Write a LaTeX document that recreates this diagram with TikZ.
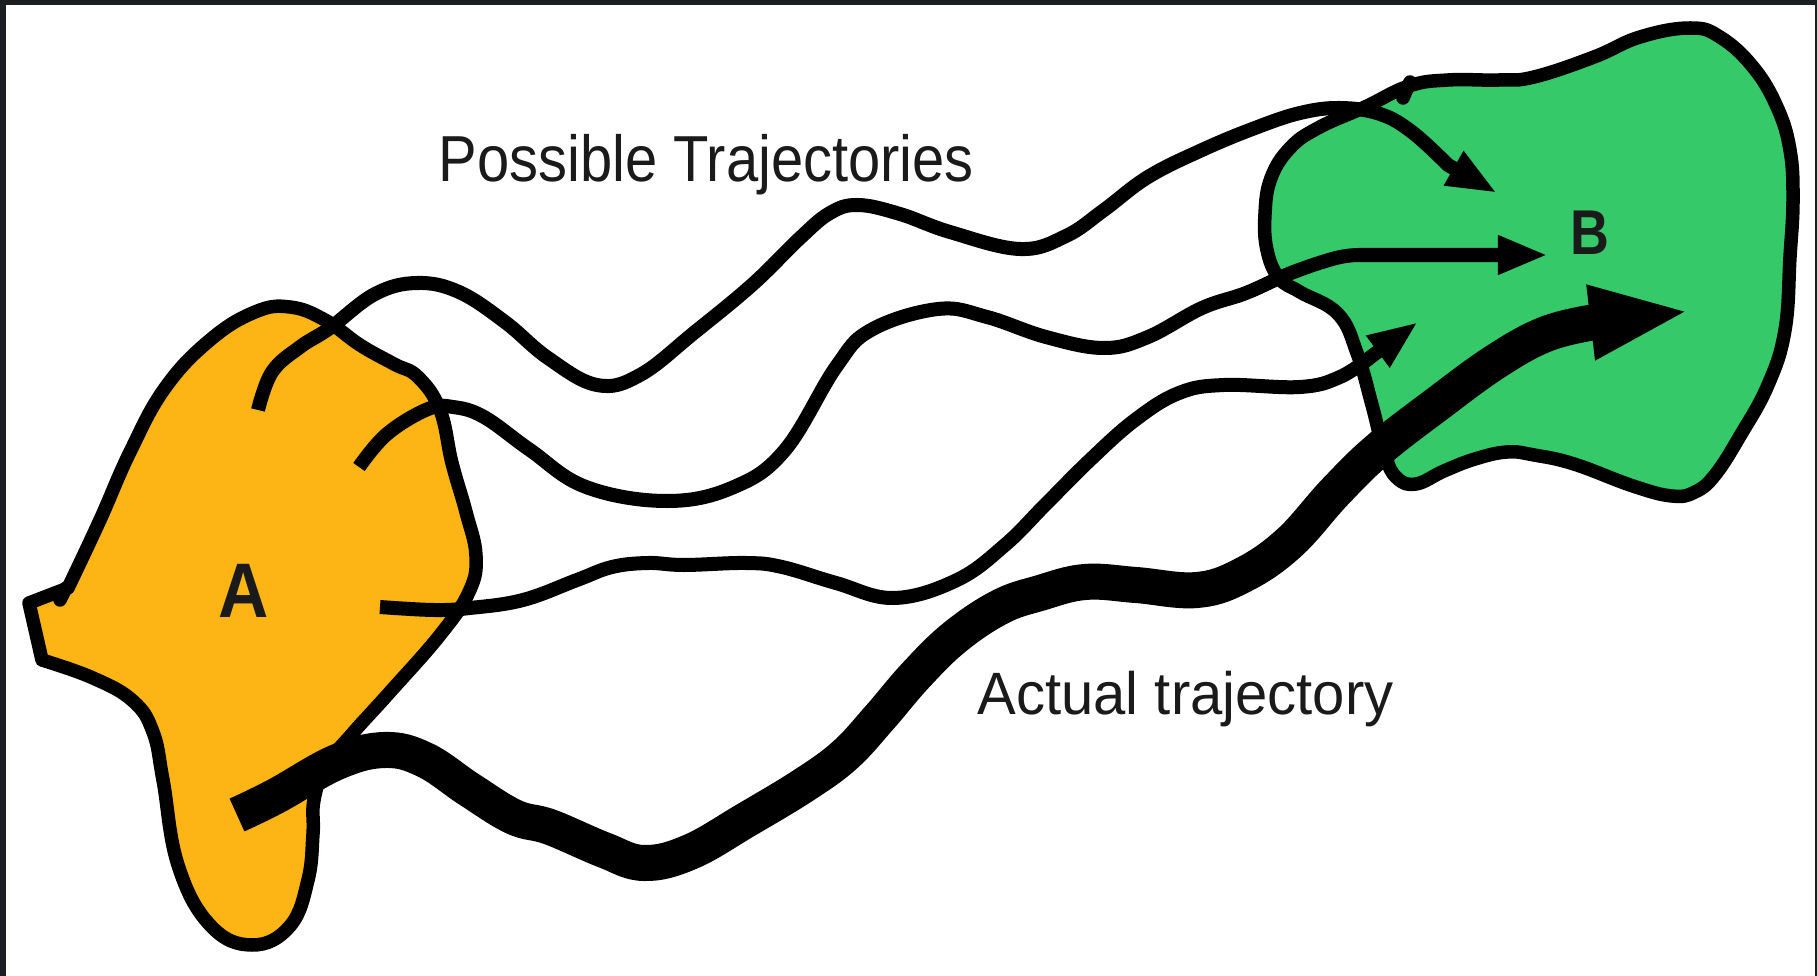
\documentclass[tikz,border=0pt]{standalone}
\usepackage{fontspec}
\setmainfont{Liberation Sans}
\usetikzlibrary{arrows.meta}
\definecolor{regA}{HTML}{FDB515}
\definecolor{regB}{HTML}{35C96A}
\definecolor{framedark}{HTML}{1B1F21}
\definecolor{txt}{HTML}{1A1A1A}
\begin{document}
\begin{tikzpicture}[x=0.01cm,y=-0.01cm,
  outl/.style={line width=0.135cm, line join=round, draw=black},
  traj/.style={line width=0.14cm, line join=round, draw=black},
  bigtraj/.style={line width=0.36cm, line join=round, draw=black},
  headsmall/.style={-{Triangle[length=0.5cm,width=0.36cm]}},
  headbig/.style={-{Triangle[length=1.0cm,width=0.68cm]}},
  lbl/.style={text=txt, inner sep=0pt},
  stub/.style={line width=0.135cm, line cap=round}
]
% frame
\fill[framedark] (0,0) rectangle (1817,976);
\fill[white] (6,5) rectangle (1815,976);

% region A
\filldraw[outl, fill=regA] plot[smooth, tension=0.7] coordinates {
 (42,660) (93,678) (133,701) (153,732) (163,780) (178,865) (210,925) (252,945)
 (290,926) (308,880) (313,834) (314,800) (326,766) (352,734) (390,692) (440,635)
 (469,592) (476,556) (466,512) (452,463) (440,410) (418,377) (394,364) (360,345)
 (325,320) (290,307) (255,312) (210,340) (165,388) (130,452) (100,520) (68,588)} -- (29,603) -- cycle;
\draw[stub] (66,588) -- (60,600);

% region B
\filldraw[outl, fill=regB] plot[smooth cycle, tension=0.7] coordinates {
 (1409,86) (1448,80) (1499,80) (1534,77) (1594,57) (1640,37) (1690,28) (1720,37)
 (1753,67) (1777,107) (1790,150) (1793,200) (1790,257) (1785,330) (1768,385)
 (1740,436) (1715,475) (1695,492) (1672,496) (1633,486) (1574,464) (1534,455)
 (1507,452) (1475,459) (1444,471) (1416,484) (1397,478) (1385,455)
 (1372,405) (1357,353) (1338,314) (1300,292) (1279,278) (1267,250) (1265,214)
 (1271,178) (1290,148) (1318,128) (1365,107)};
\draw[stub] (1410,82) -- (1403,98);

% possible trajectories
\draw[traj, headsmall] plot[smooth, tension=0.65] coordinates {
 (258,410) (272,372) (300,347) (330,328) (375,294) (417,283) (459,292) (505,322)
 (548,358) (597,385) (640,375) (695,332) (753,284) (800,238) (830,213) (858,205)
 (900,214) (950,232) (1020,249) (1066,236) (1104,210) (1148,177) (1202,150) (1255,128)
 (1300,113) (1340,108) (1380,114) (1412,132) (1448,165)} -- (1497,193);

\draw[traj, headsmall] plot[smooth, tension=0.65] coordinates {
 (359,467) (387,434) (428,409) (453,407) (484,417) (530,450) (586,487) (667,501)
 (734,487) (785,450) (836,367) (871,330) (938,309) (987,317) (1046,337) (1104,348)
 (1148,337) (1202,308) (1246,293) (1291,273) (1336,258) (1360,255)} -- (1548,255);

\draw[traj, headsmall] plot[smooth, tension=0.65] coordinates {
 (380,607) (434,610) (470,608) (523,600) (577,580) (612,567) (648,563) (684,565)
 (746,563) (782,567) (836,583) (894,598) (957,580) (1005,545) (1045,505) (1090,460)
 (1135,420) (1179,393) (1224,385) (1300,387) (1340,377) (1372,356)} -- (1418,322);

% actual trajectory
\draw[bigtraj, headbig] plot[smooth, tension=0.65] coordinates {
 (237,815) (276,796) (337,762) (385,750) (425,760) (470,790) (514,817) (550,827)
 (604,850) (644,863) (690,852) (746,820) (804,785) (845,755) (880,717) (916,675)
 (955,637) (1000,607) (1040,593) (1085,582) (1136,585) (1197,590) (1243,575)
 (1289,543) (1335,492) (1378,450) (1436,405) (1495,362) (1546,334) (1595,322)} -- (1690,311);

% labels
\node[lbl, font=\bfseries\fontsize{22}{24}\selectfont, xscale=0.9] (labelA) at (244,591) {A};
\node[lbl, font=\bfseries\fontsize{18}{20}\selectfont, xscale=0.85] (labelB) at (1590,233) {B};
\node[lbl, font=\fontsize{18.5}{20}\selectfont, xscale=0.89, anchor=base west] (possible) at (438,182) {Possible Trajectories};
\node[lbl, font=\fontsize{17}{20}\selectfont, xscale=0.97, anchor=base west] (actual) at (977,715) {Actual trajectory};
\end{tikzpicture}
\end{document}
